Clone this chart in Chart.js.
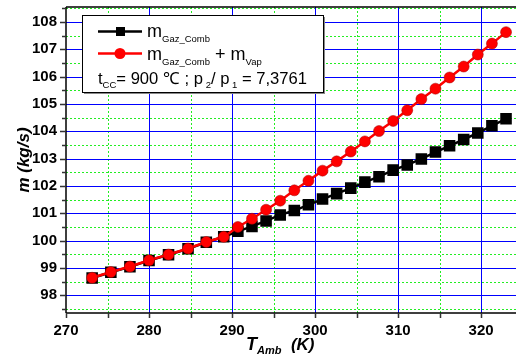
<!DOCTYPE html>
<html>
<head>
<meta charset="utf-8">
<script src="https://cdn.jsdelivr.net/npm/chart.js@4.4.0/dist/chart.umd.min.js"></script>
<style>
  html, body { margin: 0; padding: 0; background: #fff; }
  #wrap { width: 516px; height: 356px; }
</style>
</head>
<body>
<div id="wrap"><canvas id="c"></canvas></div>
<script>
// ambient temperature (K)
const tempK = [273.15, 275.4, 277.7, 280.0, 282.35, 284.7, 286.9, 289.0, 290.7, 292.4,
  294.1, 295.8, 297.5, 299.2, 300.9, 302.6, 304.3, 306.0, 307.7, 309.4,
  311.1, 312.8, 314.5, 316.2, 317.9, 319.6, 321.3, 323.0];

// m Gaz_Comb (kg/s)
const mGazComb = [98.63, 98.84, 99.04, 99.27, 99.48, 99.70, 99.94, 100.14, 100.34, 100.52,
  100.72, 100.94, 101.10, 101.31, 101.52, 101.72, 101.92, 102.14, 102.34, 102.58,
  102.77, 102.99, 103.24, 103.47, 103.70, 103.94, 104.20, 104.46];

// m Gaz_Comb + m Vap (kg/s)
const mGazCombVap = [98.64, 98.85, 99.05, 99.28, 99.49, 99.71, 99.95, 100.14, 100.50, 100.80,
  101.13, 101.46, 101.84, 102.19, 102.56, 102.90, 103.26, 103.63, 104.01, 104.38,
  104.77, 105.18, 105.56, 105.97, 106.37, 106.81, 107.21, 107.63];

const xTicks = [270, 280, 290, 300, 310, 320];
const yTicks = [98, 99, 100, 101, 102, 103, 104, 105, 106, 107, 108];

const FONT = "'Liberation Sans', Arial, sans-serif";

function toPoints(xs, ys) {
  return xs.map((v, i) => ({ x: v, y: ys[i] }));
}

// write text with subscript pieces one after another
function drawRich(ctx, x, y, parts) {
  for (const p of parts) {
    ctx.font = p.font;
    ctx.fillText(p.text, x, y + (p.dy || 0));
    x += ctx.measureText(p.text).width;
  }
  return x;
}

// no extra room for the end labels, the plot frame is fixed
function noPad(scale) {
  scale.paddingTop = 0;
  scale.paddingBottom = 0;
  scale.paddingLeft = 0;
  scale.paddingRight = 0;
}

const gridPlugin = {
  id: 'grid',
  beforeDatasetsDraw(chart) {
    const { ctx, chartArea: a, scales: { x, y } } = chart;
    ctx.save();
    ctx.lineWidth = 1;

    // minor grid: green dotted, halfway between the majors
    ctx.strokeStyle = '#22ee22';
    ctx.setLineDash([2, 2]);
    ctx.beginPath();
    for (let i = 0; i < xTicks.length; i++) {
      const v = xTicks[i] + 5;
      if (v >= x.max) continue;
      const px = Math.round(x.getPixelForValue(v)) + 0.5;
      ctx.moveTo(px, a.top); ctx.lineTo(px, a.bottom);
    }
    for (let i = 0; i < yTicks.length; i++) {
      const v = yTicks[i] - 0.5;
      if (v <= y.min) continue;
      const py = Math.round(y.getPixelForValue(v)) + 0.5;
      ctx.moveTo(a.left, py); ctx.lineTo(a.right, py);
    }
    const lastY = yTicks[yTicks.length - 1] + 0.5;
    if (lastY < y.max) {
      const py = Math.round(y.getPixelForValue(lastY)) + 0.5;
      ctx.moveTo(a.left, py); ctx.lineTo(a.right, py);
    }
    ctx.stroke();

    // major grid: blue solid
    ctx.setLineDash([]);
    ctx.strokeStyle = '#0000ff';
    ctx.beginPath();
    xTicks.forEach(v => {
      if (v <= x.min) return;
      const px = Math.round(x.getPixelForValue(v)) + 0.5;
      ctx.moveTo(px, a.top); ctx.lineTo(px, a.bottom);
    });
    yTicks.forEach(v => {
      const py = Math.round(y.getPixelForValue(v)) + 0.5;
      ctx.moveTo(a.left, py); ctx.lineTo(a.right, py);
    });
    ctx.stroke();
    ctx.restore();
  },
  afterDraw(chart) {
    const { ctx, chartArea: a, scales: { x, y } } = chart;
    ctx.save();

    // axes frame + tick marks
    ctx.strokeStyle = '#000';
    ctx.lineWidth = 1.5;
    ctx.beginPath();
    ctx.moveTo(a.left, a.top); ctx.lineTo(a.right, a.top);
    ctx.moveTo(a.left, a.top); ctx.lineTo(a.left, a.bottom);
    ctx.moveTo(a.left, a.bottom); ctx.lineTo(a.right, a.bottom);
    ctx.stroke();

    ctx.strokeStyle = '#333';
    ctx.lineWidth = 1.5;
    ctx.beginPath();
    yTicks.forEach(v => {
      const py = Math.round(y.getPixelForValue(v)) + 0.5;
      ctx.moveTo(a.left - 6, py); ctx.lineTo(a.left, py);
      [v - 0.5, v + 0.5].forEach(m => {
        if (m <= y.min || m >= y.max) return;
        const pm = Math.round(y.getPixelForValue(m)) + 0.5;
        ctx.moveTo(a.left - 4, pm); ctx.lineTo(a.left, pm);
      });
    });
    xTicks.forEach(v => {
      [v, v + 5].forEach(m => {
        if (m >= x.max) return;
        const px = Math.round(x.getPixelForValue(m)) + 0.5;
        ctx.moveTo(px, a.bottom); ctx.lineTo(px, a.bottom + 5);
      });
    });
    ctx.stroke();

    // axis titles
    ctx.fillStyle = '#000';
    ctx.textBaseline = 'alphabetic';
    drawRich(ctx, 246, 350, [
      { text: 'T', font: `italic bold 18px ${FONT}` },
      { text: 'Amb', font: `italic bold 11px ${FONT}`, dy: 4 },
      { text: '  (K)', font: `italic bold 17px ${FONT}` }
    ]);

    ctx.save();
    ctx.translate(29, 160);
    ctx.rotate(-Math.PI / 2);
    ctx.font = `italic bold 17px ${FONT}`;
    ctx.textAlign = 'center';
    ctx.fillText('m (kg/s)', 0, 0);
    ctx.restore();

    // legend box with shadow
    const bx = 82, by = 15, bw = 241, bh = 77;
    ctx.fillStyle = '#888';
    ctx.fillRect(bx + 2, by + 2, bw, bh);
    ctx.fillStyle = '#fff';
    ctx.fillRect(bx, by, bw, bh);
    ctx.strokeStyle = '#000';
    ctx.lineWidth = 1;
    ctx.strokeRect(bx + 0.5, by + 0.5, bw, bh);

    ctx.lineWidth = 2.5;
    ctx.strokeStyle = '#000';
    ctx.beginPath(); ctx.moveTo(98, 31.5); ctx.lineTo(142, 31.5); ctx.stroke();
    ctx.fillStyle = '#000';
    ctx.fillRect(116, 27, 9, 9);

    ctx.strokeStyle = '#ff0000';
    ctx.beginPath(); ctx.moveTo(98, 53.5); ctx.lineTo(142, 53.5); ctx.stroke();
    ctx.fillStyle = '#ff0000';
    ctx.beginPath(); ctx.arc(120, 53.5, 5.5, 0, Math.PI * 2); ctx.fill();

    ctx.fillStyle = '#000';
    const big = `18px ${FONT}`, sub = `9.5px ${FONT}`;
    drawRich(ctx, 147, 37, [
      { text: 'm', font: big },
      { text: 'Gaz_Comb', font: sub, dy: 5 }
    ]);
    drawRich(ctx, 147, 60, [
      { text: 'm', font: big },
      { text: 'Gaz_Comb', font: sub, dy: 5 },
      { text: ' + m', font: big },
      { text: 'Vap', font: sub, dy: 5 }
    ]);
    const mid = `16.6px ${FONT}`;
    drawRich(ctx, 98, 84, [
      { text: 't', font: mid },
      { text: 'CC', font: sub, dy: 4 },
      { text: '= 900 \u2103 ; p', font: mid },
      { text: ' 2', font: sub, dy: 4 },
      { text: '/ p', font: mid },
      { text: ' 1', font: sub, dy: 4 },
      { text: ' = 7,3761', font: mid }
    ]);
    ctx.restore();
  }
};

new Chart(document.getElementById('c'), {
  type: 'scatter',
  data: {
    datasets: [
      {
        label: 'mGaz_Comb + mVap',
        data: toPoints(tempK, mGazCombVap),
        showLine: true,
        borderColor: '#ff0000',
        backgroundColor: '#ff0000',
        borderWidth: 2.5,
        pointStyle: 'circle',
        pointRadius: 5.5,
        pointBorderWidth: 0.5,
        pointBorderColor: '#a00000',
        order: 0
      },
      {
        label: 'mGaz_Comb',
        data: toPoints(tempK, mGazComb),
        showLine: true,
        borderColor: '#000',
        backgroundColor: '#000',
        borderWidth: 2.5,
        pointStyle: 'rect',
        pointRadius: 6.4,
        order: 1
      }
    ]
  },
  options: {
    responsive: true,
    maintainAspectRatio: false,
    animation: false,
    devicePixelRatio: 1,
    layout: { autoPadding: false, padding: { top: 7, right: 0, left: 0, bottom: 0 } },
    plugins: { legend: { display: false }, tooltip: { enabled: false } },
    scales: {
      x: {
        type: 'linear',
        min: 270,
        max: 324.2,
        afterFit(scale) { scale.height = 43; noPad(scale); },
        afterBuildTicks(scale) { scale.ticks = xTicks.map(v => ({ value: v })); },
        grid: { display: false, drawTicks: false },
        border: { display: false },
        ticks: {
          color: '#000',
          padding: 9,
          maxRotation: 0,
          autoSkip: false,
          font: { family: FONT, size: 15, weight: 'bold' }
        }
      },
      y: {
        type: 'linear',
        min: 97.35,
        max: 108.55,
        afterFit(scale) { scale.width = 66; noPad(scale); },
        afterBuildTicks(scale) { scale.ticks = yTicks.map(v => ({ value: v })); },
        grid: { display: false, drawTicks: false },
        border: { display: false },
        ticks: {
          color: '#000',
          padding: 9,
          autoSkip: false,
          font: { family: FONT, size: 15, weight: 'bold' }
        }
      }
    }
  },
  plugins: [gridPlugin]
});
</script>
</body>
</html>
